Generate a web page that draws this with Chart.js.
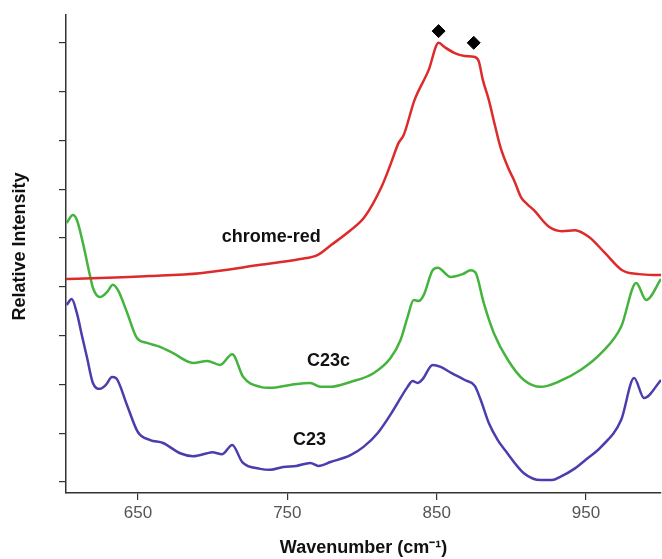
<!DOCTYPE html>
<html>
<head>
<meta charset="utf-8">
<script src="https://cdn.jsdelivr.net/npm/chart.js@4"></script>
<style>
  html, body { margin: 0; padding: 0; background: #fff; }
  #wrap { width: 662px; height: 559px; }
</style>
</head>
<body>
<div id="wrap"><canvas id="spectre"></canvas></div>
<script>
  // donnees
  const redWn = [601.8, 624.5, 658, 691.6, 731.9, 758.7, 770.1, 779.5, 792.3, 801.7, 813.1, 819, 824.5, 827.9, 835.2, 844.6, 851.3, 855.4, 862.1, 868.8, 875.5, 878.2, 880.9, 884.9, 888.9, 892.9, 897.7, 902.3, 906.4, 910.4, 915.1, 925.2, 933.9, 942.6, 952, 962.8, 974.2, 985.6, 1000.2];
  const redI = [4.16, 4.18, 4.22, 4.28, 4.45, 4.57, 4.65, 4.86, 5.16, 5.43, 6.05, 6.50, 6.95, 7.11, 7.83, 8.44, 9.00, 8.91, 8.79, 8.73, 8.71, 8.62, 8.24, 7.83, 7.32, 6.84, 6.45, 6.15, 5.84, 5.70, 5.57, 5.23, 5.14, 5.16, 5.02, 4.69, 4.34, 4.26, 4.24];

  const greenWn = [602.3, 606.4, 609.1, 613.1, 617.8, 619.8, 624.5, 629.2, 633.2, 636.6, 642.6, 649.3, 656.0, 664.8, 673.5, 686.9, 696.3, 705.0, 713.1, 720.5, 731.9, 738.6, 752.0, 765.4, 772.1, 778.9, 792.3, 807.7, 819.1, 825.8, 830.5, 834.6, 837.9, 841.3, 847.3, 850.7, 859.4, 867.4, 872.8, 876.2, 881.5, 888.3, 897.7, 908.4, 919.8, 931.2, 946.6, 960.1, 973.5, 983.6, 990.3, 1000.2];
  const greenI = [5.31, 5.47, 5.37, 4.90, 4.24, 3.98, 3.79, 3.89, 4.04, 3.93, 3.48, 2.95, 2.85, 2.77, 2.64, 2.44, 2.48, 2.40, 2.62, 2.15, 1.95, 1.93, 1.99, 2.03, 1.95, 1.95, 2.05, 2.23, 2.54, 2.91, 3.38, 3.73, 3.71, 3.83, 4.34, 4.39, 4.20, 4.26, 4.34, 4.28, 3.67, 3.05, 2.50, 2.09, 1.95, 2.05, 2.30, 2.64, 3.18, 4.08, 3.73, 4.16];

  const blueWn = [602.3, 605.6, 609.1, 612.4, 615.8, 619.8, 624.5, 628.5, 632.6, 635.2, 642.6, 650.0, 658.1, 666.8, 678.2, 686.9, 696.3, 699.7, 706.4, 713.1, 719.8, 731.9, 738.6, 747.3, 756.0, 765.4, 770.8, 778.9, 792.3, 801.0, 810.4, 821.1, 830.5, 833.9, 837.2, 840.6, 847.3, 852.7, 860.1, 868.8, 875.5, 879.5, 884.9, 890.9, 895.6, 908.4, 919.8, 927.2, 933.0, 942.6, 950.0, 960.1, 973.5, 982.2, 988.9, 1000.2];
  const blueI = [3.63, 3.75, 3.46, 3.01, 2.56, 2.03, 1.91, 1.99, 2.15, 2.13, 1.58, 1.02, 0.86, 0.80, 0.59, 0.53, 0.59, 0.61, 0.57, 0.76, 0.41, 0.27, 0.25, 0.31, 0.33, 0.39, 0.33, 0.41, 0.55, 0.72, 1.00, 1.48, 1.95, 2.07, 2.03, 2.11, 2.40, 2.36, 2.23, 2.09, 1.97, 1.68, 1.21, 0.86, 0.66, 0.18, 0.04, 0.04, 0.11, 0.28, 0.46, 0.72, 1.27, 2.13, 1.72, 2.09];

  const markerWn = [851.3, 874.8];
  const markerI = [9.24, 9.0];

  const labelText = ['chrome-red', 'C23c', 'C23'];
  const labelWn = [739.3, 777.5, 764.8];
  const labelI = [5.02, 2.48, 0.86];

  const xTicks = [650, 750, 850, 950];
  const yTicks = [0, 1, 2, 3, 4, 5, 6, 7, 8, 9];

  const pts = (xs, ys) => xs.map((x, i) => ({ x: x, y: ys[i] }));

  const serie = (label, xs, ys, color) => ({
    label: label,
    data: pts(xs, ys),
    showLine: true,
    borderColor: color,
    borderWidth: 2.5,
    pointRadius: 0,
    cubicInterpolationMode: 'monotone',
    fill: false
  });

  // etiquettes des courbes
  const etiquettes = {
    id: 'etiquettes',
    afterDatasetsDraw(chart) {
      const { ctx, scales: { x, y } } = chart;
      ctx.save();
      ctx.font = 'bold 18px "Liberation Sans", Arial, sans-serif';
      ctx.fillStyle = '#111';
      ctx.textAlign = 'center';
      ctx.textBaseline = 'middle';
      labelText.forEach((t, i) => {
        ctx.fillText(t, x.getPixelForValue(labelWn[i]), y.getPixelForValue(labelI[i]));
      });
      ctx.restore();
    }
  };

  const ctx = document.getElementById('spectre').getContext('2d');
  new Chart(ctx, {
    type: 'scatter',
    data: {
      datasets: [
        {
          label: 'pics',
          data: pts(markerWn, markerI),
          pointStyle: 'rectRot',
          pointRadius: 6.5,
          backgroundColor: '#000',
          borderColor: '#000',
          showLine: false
        },
        serie('chrome-red', redWn, redI, '#dd2b2b'),
        serie('C23c', greenWn, greenI, '#45b43e'),
        serie('C23', blueWn, blueI, '#4a3eae')
      ]
    },
    options: {
      responsive: true,
      maintainAspectRatio: false,
      animation: false,
      layout: { autoPadding: false, padding: { top: 15, right: 1, left: 0, bottom: 0 } },
      plugins: {
        legend: { display: false },
        tooltip: { enabled: false }
      },
      scales: {
        x: {
          type: 'linear',
          min: 601.8,
          max: 1000.2,
          afterBuildTicks: s => { s.ticks = xTicks.map(v => ({ value: v })); },
          afterFit: s => { s.height = 66; s.paddingRight = 0; s.paddingLeft = 0; },
          grid: { drawOnChartArea: false, drawTicks: true, tickLength: 7, color: '#333', lineWidth: 1.2 },
          border: { display: true, color: '#333', width: 1.5 },
          ticks: {
            color: '#555',
            padding: 3,
            maxRotation: 0,
            font: { family: '"Liberation Sans", Arial, sans-serif', size: 17 }
          },
          title: {
            display: true,
            text: 'Wavenumber (cm⁻¹)',
            color: '#111',
            padding: { top: 0, bottom: 0 },
            font: { family: '"Liberation Sans", Arial, sans-serif', size: 18, weight: 'bold' }
          }
        },
        y: {
          type: 'linear',
          min: -0.225,
          max: 9.57,
          afterBuildTicks: s => { s.ticks = yTicks.map(v => ({ value: v })); },
          afterFit: s => { s.width = 66; s.paddingTop = 0; s.paddingBottom = 0; },
          grid: { drawOnChartArea: false, drawTicks: true, tickLength: 7, color: '#333', lineWidth: 1.2 },
          border: { display: true, color: '#333', width: 1.5 },
          ticks: { display: false },
          title: {
            display: true,
            text: '   Relative Intensity',
            color: '#111',
            padding: { top: 9, bottom: 0 },
            font: { family: '"Liberation Sans", Arial, sans-serif', size: 18, weight: 'bold' }
          }
        }
      }
    },
    plugins: [etiquettes]
  });
</script>
</body>
</html>
